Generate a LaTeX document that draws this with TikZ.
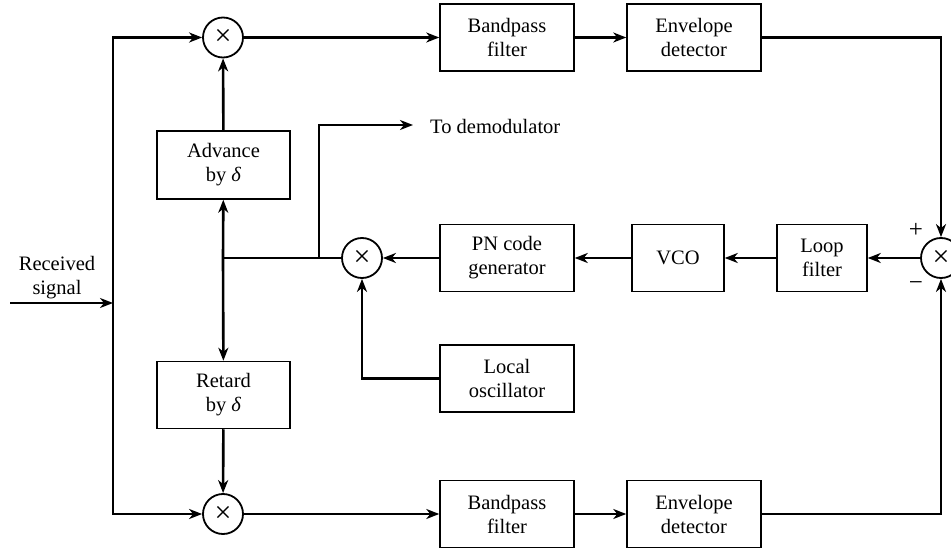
\documentclass[tikz,border=0pt]{standalone}
\usepackage{fontspec}
\setmainfont{Liberation Serif}
\usetikzlibrary{arrows.meta,calc}
\begin{document}
\begin{tikzpicture}[x=1pt,y=-1pt,
 blk/.style={draw,line width=1.5pt,minimum width=134pt,minimum height=67pt,align=center,inner sep=0pt,font=\fontsize{20.5}{24}\selectfont},
 mix/.style={draw,circle,line width=1.8pt,minimum size=40pt,inner sep=0pt,font=\fontsize{30}{30}\selectfont},
 conn/.style={line width=2.6pt,-{Stealth[length=13pt,width=10pt,inset=4pt]}},
 wire/.style={line width=2.6pt},
 lbl/.style={font=\fontsize{20.5}{24}\selectfont,inner sep=0pt,align=center},
 sgn/.style={font=\fontsize{25}{25}\selectfont,inner sep=0pt}]
\useasboundingbox (0,0) rectangle (951,548);
% blocks
\node[blk] (bpf1) at (507,37.5) {Bandpass\\filter};
\node[blk] (ed1) at (694,37.5) {Envelope\\detector};
\node[blk,minimum width=133pt,minimum height=68pt] (adv) at (223.5,165) {Advance\\by \textit{δ}};
\node[blk,minimum width=133pt] (ret) at (223.5,395) {Retard\\by \textit{δ}};
\node[blk] (pn) at (507,258) {PN code\\generator};
\node[blk,minimum width=92pt] (vco) at (678,258) {VCO};
\node[blk,minimum width=90pt] (loop) at (822,258) {Loop\\filter};
\node[blk] (lo) at (507,378.5) {Local\\oscillator};
\node[blk] (bpf2) at (507,514) {Bandpass\\filter};
\node[blk] (ed2) at (694,514) {Envelope\\detector};
% mixers
\node[mix] (m1) at (223,37.5) {×};
\node[mix] (m2) at (223,514) {×};
\node[mix] (m3) at (362,258) {×};
\node[mix] (m4) at (941,258) {×};
% labels
\node[lbl] (rs) at (57,278) {Received\\signal};
\node[lbl,anchor=west] (tdm) at (430,126) {To demodulator};
\node[sgn] (plus) at (916,230) {+};
\node[sgn] (minus) at (916,286) {−};
% coordinates
\coordinate (in) at (10,303);
\coordinate (bus) at (113,303);
\coordinate (j) at (223,258);
\coordinate (k) at (319,258);
\coordinate (dm) at (413,125);
% connectors
\draw[conn] (in) -- (bus);
\draw[conn] (bus) |- (m1.west);
\draw[conn] (bus) |- (m2.west);
\draw[conn] (m1) -- (bpf1);
\draw[conn] (bpf1) -- (ed1);
\draw[conn] (ed1.east) -| (m4.north);
\draw[conn] (m2) -- (bpf2);
\draw[conn] (bpf2) -- (ed2);
\draw[conn] (ed2.east) -| (m4.south);
\draw[conn] (m4) -- (loop);
\draw[conn] (loop) -- (vco);
\draw[conn] (vco) -- (pn);
\draw[conn] (pn) -- (m3);
\draw[wire] (m3.west) -- (j);
\draw[conn] (j) -- (adv);
\draw[conn] (j) -- (ret);
\draw[conn] (adv) -- (m1);
\draw[conn] (ret) -- (m2);
\draw[conn] (k) |- (dm);
\draw[conn] (lo.west) -| (m3.south);
\end{tikzpicture}
\end{document}
